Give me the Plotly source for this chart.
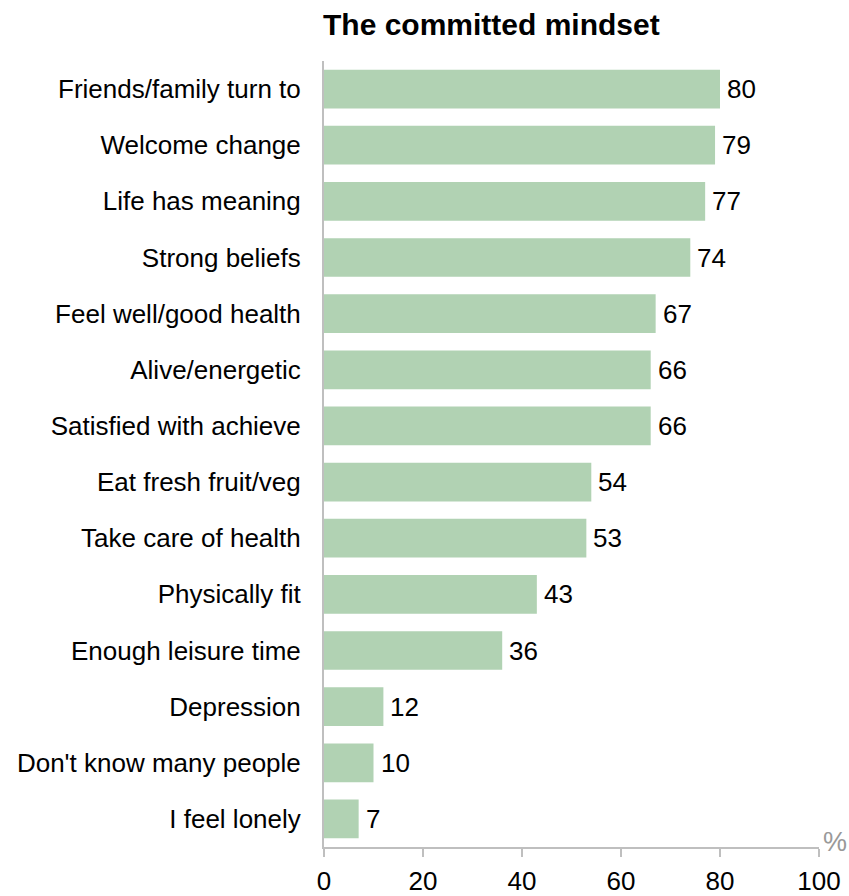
import plotly.graph_objects as go

categories = [
    "Friends/family turn to",
    "Welcome change",
    "Life has meaning",
    "Strong beliefs",
    "Feel well/good health",
    "Alive/energetic",
    "Satisfied with achieve",
    "Eat fresh fruit/veg",
    "Take care of health",
    "Physically fit",
    "Enough leisure time",
    "Depression",
    "Don't know many people",
    "I feel lonely",
]
values = [80, 79, 77, 74, 67, 66, 66, 54, 53, 43, 36, 12, 10, 7]
x_ticks = [0, 20, 40, 60, 80, 100]

FONT = "Liberation Sans, Arial, sans-serif"
BAR_COLOR = "#b1d2b3"
AXIS_COLOR = "#bfbfbf"

fig = go.Figure(
    go.Bar(
        x=values,
        y=categories,
        orientation="h",
        marker=dict(color=BAR_COLOR, line=dict(width=0)),
        hoverinfo="skip",
    )
)

# value labels just to the right of each bar end
value_labels = [
    dict(
        text=str(v),
        x=v, y=c,
        xref="x", yref="y",
        xanchor="left", yanchor="middle",
        xshift=5,
        showarrow=False,
        font=dict(family=FONT, size=26, color="#000000"),
    )
    for c, v in zip(categories, values)
]

fig.update_layout(
    width=849,
    height=896,
    margin=dict(l=324, r=30, t=61, b=49),
    paper_bgcolor="white",
    plot_bgcolor="white",
    bargap=0.31,
    showlegend=False,
    font=dict(family=FONT, size=26, color="#000000"),
    annotations=value_labels + [
        dict(
            text="<b>The committed mindset</b>",
            xref="paper", yref="paper",
            x=0, y=1, xanchor="left", yanchor="bottom",
            xshift=-3, yshift=18,
            showarrow=False,
            font=dict(family=FONT, size=30, color="#000000"),
        ),
        dict(
            text="%",
            xref="x", yref="paper",
            x=100, y=0, xanchor="left", yanchor="middle",
            xshift=2, yshift=5,
            showarrow=False,
            font=dict(family=FONT, size=27, color="#999999"),
        ),
    ],
)

fig.update_xaxes(
    range=[0, 100],
    tickvals=x_ticks,
    ticktext=[str(t) for t in x_ticks],
    showgrid=False,
    zeroline=False,
    showline=True,
    linecolor=AXIS_COLOR,
    linewidth=2,
    ticks="outside",
    ticklen=8,
    tickwidth=2,
    tickcolor=AXIS_COLOR,
    tickfont=dict(family=FONT, size=26, color="#000000"),
    ticklabelstandoff=2,
    automargin=False,
    fixedrange=True,
)

fig.update_yaxes(
    categoryorder="array",
    categoryarray=categories[::-1],
    showgrid=False,
    zeroline=False,
    showline=True,
    linecolor=AXIS_COLOR,
    linewidth=2,
    ticks="",
    tickfont=dict(family=FONT, size=26, color="#000000"),
    ticklabelstandoff=16,
    automargin=False,
    fixedrange=True,
)

fig.write_html("out.html")
